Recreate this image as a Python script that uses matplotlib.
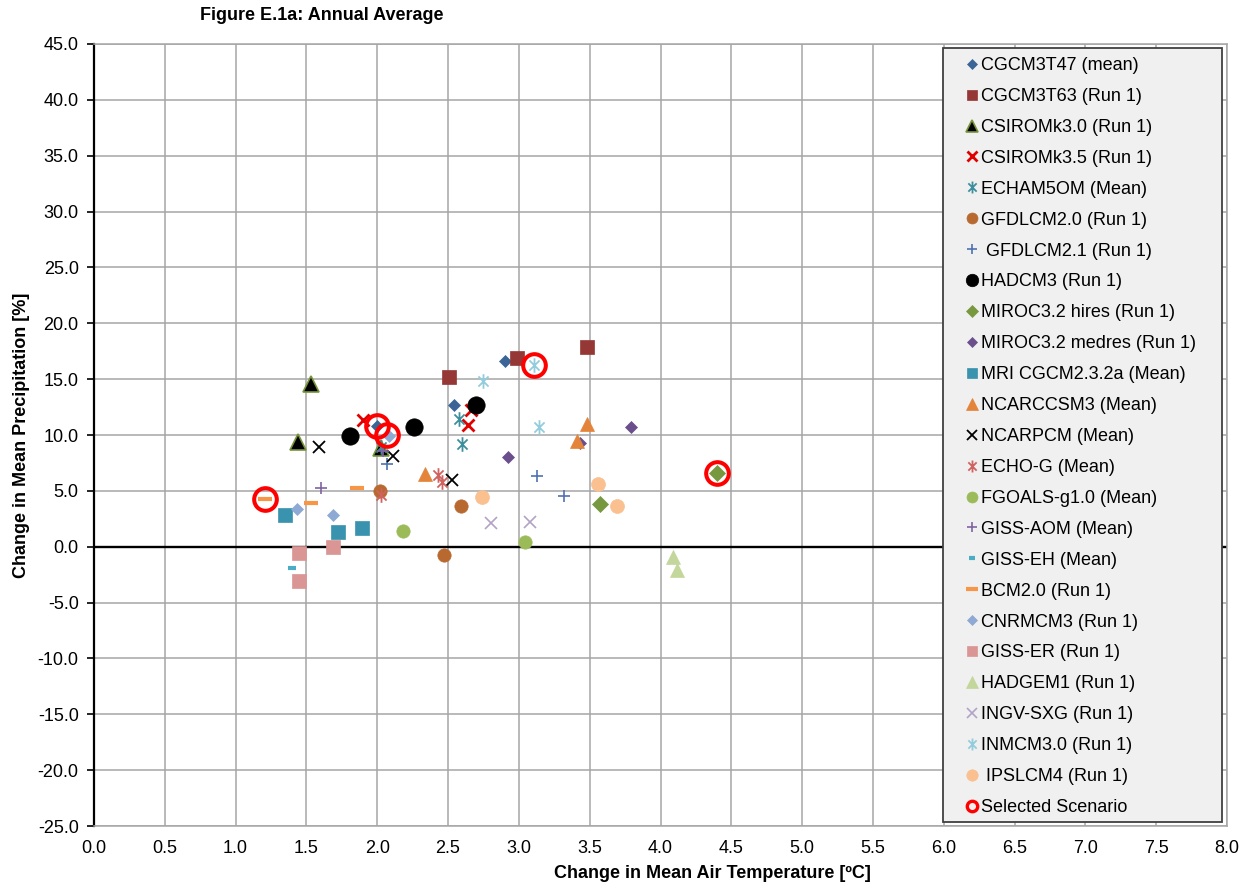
import matplotlib
matplotlib.use("Agg")
import matplotlib.pyplot as plt
from matplotlib.path import Path
from matplotlib.lines import Line2D
from matplotlib.patches import Rectangle

plt.rcParams["font.family"] = ["Liberation Sans", "DejaVu Sans"]

# Change in mean air temperature [degC] (dt) and mean precipitation [%] (dp)
cgcm3t47_dt = [2.90, 2.54, 2.00]
cgcm3t47_dp = [16.6, 12.7, 10.8]
cgcm3t63_dt = [2.51, 2.99, 3.48]
cgcm3t63_dp = [15.2, 16.9, 17.9]
csiro30_dt = [1.53, 1.44, 2.03]
csiro30_dp = [14.6, 9.4, 8.8]
csiro35_dt = [1.90, 2.64, 2.66]
csiro35_dp = [11.3, 10.9, 12.2]
echam5_dt = [2.58, 2.60, 2.03]
echam5_dp = [11.4, 9.2, 8.9]
gfdl20_dt = [2.02, 2.59, 2.47]
gfdl20_dp = [5.0, 3.6, -0.7]
gfdl21_dt = [3.13, 3.32, 2.07]
gfdl21_dp = [6.3, 4.5, 7.4]
hadcm3_dt = [1.81, 2.26, 2.70]
hadcm3_dp = [9.9, 10.7, 12.7]
miroc_hi_dt = [4.40, 3.57]
miroc_hi_dp = [6.6, 3.8]
miroc_med_dt = [2.92, 3.79, 3.43]
miroc_med_dp = [8.0, 10.7, 9.3]
mri_dt = [1.35, 1.72, 1.89]
mri_dp = [2.8, 1.3, 1.7]
ccsm3_dt = [2.34, 3.48, 3.41]
ccsm3_dp = [6.5, 11.0, 9.5]
ncarpcm_dt = [1.59, 2.11, 2.53]
ncarpcm_dp = [8.9, 8.1, 5.95]
echog_dt = [2.43, 2.46, 2.03]
echog_dp = [6.4, 5.8, 4.6]
fgoals_dt = [2.18, 3.04]
fgoals_dp = [1.4, 0.4]
giss_aom_dt = [1.60, 2.04]
giss_aom_dp = [5.3, 8.6]
giss_eh_dt = [1.40]
giss_eh_dp = [-1.95]
bcm20_dt = [1.21, 1.53, 1.86]
bcm20_dp = [4.25, 3.9, 5.3]
cnrm_dt = [1.43, 1.69, 2.08]
cnrm_dp = [3.4, 2.8, 9.9]
giss_er_dt = [1.45, 1.69, 1.45]
giss_er_dp = [-0.6, 0.0, -3.1]
hadgem1_dt = [4.09, 4.12]
hadgem1_dp = [-0.9, -2.1]
ingv_dt = [2.80, 3.08]
ingv_dp = [2.1, 2.2]
inmcm_dt = [3.11, 2.75, 3.14]
inmcm_dp = [16.3, 14.8, 10.7]
ipsl_dt = [2.74, 3.56, 3.69]
ipsl_dp = [4.45, 5.65, 3.6]
selected_dt = [1.21, 2.00, 2.07, 3.11, 4.40]
selected_dp = [4.25, 10.8, 10.0, 16.3, 6.6]

x_ticks = [i * 0.5 for i in range(17)]
y_ticks = [-25 + 5 * i for i in range(15)]

# Excel-style star: an "x" with a vertical bar through it
star = Path([(-0.5, -0.5), (0.5, 0.5), (-0.5, 0.5), (0.5, -0.5), (0, -0.72), (0, 0.72)],
            [Path.MOVETO, Path.LINETO, Path.MOVETO, Path.LINETO, Path.MOVETO, Path.LINETO])

# label, x, y, marker, size, face, edge, edge width, legend size
series = [
    ("CGCM3T47 (mean)", cgcm3t47_dt, cgcm3t47_dp, "D", 6.3, "#3B6597", "#3B6597", 0.5, 5.2),
    ("CGCM3T63 (Run 1)", cgcm3t63_dt, cgcm3t63_dp, "s", 9.5, "#953735", "#953735", 0.5, 7.8),
    ("CSIROMk3.0 (Run 1)", csiro30_dt, csiro30_dp, "^", 11.5, "black", "#77933C", 1.2, 8.0),
    ("CSIROMk3.5 (Run 1)", csiro35_dt, csiro35_dp, "x", 9.0, "#E00000", "#E00000", 2.0, 7.4),
    ("ECHAM5OM (Mean)", echam5_dt, echam5_dp, star, 10.5, "none", "#3D8F9E", 1.3, 8.6),
    ("GFDLCM2.0 (Run 1)", gfdl20_dt, gfdl20_dp, "o", 9.6, "#B8692F", "#B8692F", 0.5, 7.9),
    (" GFDLCM2.1 (Run 1)", gfdl21_dt, gfdl21_dp, "+", 9.0, "#4F72B0", "#4F72B0", 1.2, 7.4),
    ("HADCM3 (Run 1)", hadcm3_dt, hadcm3_dp, "o", 12.5, "black", "black", 0.5, 9.0),
    ("MIROC3.2 hires (Run 1)", miroc_hi_dt, miroc_hi_dp, "D", 8.0, "#77983F", "#77983F", 0.5, 5.8),
    ("MIROC3.2 medres (Run 1)", miroc_med_dt, miroc_med_dp, "D", 6.3, "#6A4F8C", "#6A4F8C", 0.5, 5.2),
    ("MRI CGCM2.3.2a (Mean)", mri_dt, mri_dp, "s", 9.5, "#3A93AE", "#3A93AE", 0.5, 7.8),
    ("NCARCCSM3 (Mean)", ccsm3_dt, ccsm3_dp, "^", 10.0, "#E3843A", "#E3843A", 0.5, 8.2),
    ("NCARPCM (Mean)", ncarpcm_dt, ncarpcm_dp, "x", 9.0, "black", "black", 1.3, 7.4),
    ("ECHO-G (Mean)", echog_dt, echog_dp, star, 10.5, "none", "#D0625F", 1.3, 8.6),
    ("FGOALS-g1.0 (Mean)", fgoals_dt, fgoals_dp, "o", 9.6, "#9BBB59", "#9BBB59", 0.5, 7.9),
    ("GISS-AOM (Mean)", giss_aom_dt, giss_aom_dp, "+", 9.0, "#8064A2", "#8064A2", 1.2, 7.4),
    ("GISS-EH (Mean)", giss_eh_dt, giss_eh_dp, "_", 6.0, "#4BACC6", "#4BACC6", 3.0, 5.0),
    ("BCM2.0 (Run 1)", bcm20_dt, bcm20_dp, "_", 10.0, "#F79646", "#F79646", 3.0, 8.2),
    ("CNRMCM3 (Run 1)", cnrm_dt, cnrm_dp, "D", 6.3, "#8EA9D4", "#8EA9D4", 0.5, 5.2),
    ("GISS-ER (Run 1)", giss_er_dt, giss_er_dp, "s", 9.5, "#D99694", "#D99694", 0.5, 7.8),
    ("HADGEM1 (Run 1)", hadgem1_dt, hadgem1_dp, "^", 10.0, "#C3D69B", "#C3D69B", 0.5, 8.2),
    ("INGV-SXG (Run 1)", ingv_dt, ingv_dp, "x", 9.0, "#B3A2C7", "#B3A2C7", 1.2, 7.4),
    ("INMCM3.0 (Run 1)", inmcm_dt, inmcm_dp, star, 10.5, "none", "#93CDDD", 1.3, 8.6),
    (" IPSLCM4 (Run 1)", ipsl_dt, ipsl_dp, "o", 10.0, "#FAC090", "#FAC090", 0.5, 8.2),
]

fig = plt.figure(figsize=(12.43, 8.88), dpi=100)
ax = fig.add_axes([94 / 1243, 62 / 888, 1133 / 1243, 782 / 888])

ax.set_xlim(0, 8)
ax.set_ylim(-25, 45)
ax.set_xticks(x_ticks)
ax.set_xticklabels([f"{v:.1f}" for v in x_ticks])
ax.set_yticks(y_ticks)
ax.set_yticklabels([f"{v:.1f}" for v in y_ticks])
ax.grid(True, color="#A6A6A6", lw=1.1)
ax.set_axisbelow(True)
ax.tick_params(axis="x", length=0, pad=10, labelsize=13)
ax.tick_params(axis="y", length=5, width=1.2, color="black", pad=6, labelsize=13)
for side in ("top", "right", "bottom"):
    ax.spines[side].set_color("#A6A6A6")
    ax.spines[side].set_linewidth(1.1)
ax.spines["left"].set_color("black")
ax.spines["left"].set_linewidth(1.6)
ax.axhline(0, color="black", lw=1.7, zorder=1.5)

handles = []
for label, xs, ys, mk, ms, fc, ec, mew, lms in series:
    ax.plot(xs, ys, ls="none", marker=mk, ms=ms, mfc=fc, mec=ec, mew=mew, zorder=3)
    handles.append(Line2D([], [], ls="none", marker=mk, ms=lms, mfc=fc, mec=ec,
                          mew=mew, label=label))

ax.plot(selected_dt, selected_dp, ls="none", marker="o", ms=16.3, mfc="none",
        mec="#FF0000", mew=2.9, zorder=4)
handles.append(Line2D([], [], ls="none", marker="o", ms=7.5, mfc="none", mec="#FF0000",
                      mew=2.4, label="Selected Scenario"))

# legend box
box = Rectangle(((943 - 94) / 1133, (826 - 822) / 782), (1222 - 943) / 1133, (822 - 48) / 782,
                transform=ax.transAxes, facecolor="#F0F0F0", edgecolor="#404040", lw=1.3,
                zorder=10, clip_on=False)
ax.add_patch(box)
leg = ax.legend(handles=handles, loc="upper left",
                bbox_to_anchor=((964.8 - 94) / 1133, (826 - 57) / 782),
                frameon=False, borderpad=0, borderaxespad=0, handlelength=0.8,
                handletextpad=0.1, labelspacing=0.771, fontsize=13, numpoints=1)
leg.set_zorder(11)

fig.text(200 / 1243, 1 - 16 / 888, "Figure E.1a: Annual Average", fontsize=13,
         fontweight="bold", ha="left", va="center")
fig.text(712 / 1243, 1 - 873 / 888, "Change in Mean Air Temperature [ºC]",
         fontsize=13, fontweight="bold", ha="center", va="center")
fig.text(22 / 1243, 1 - 435 / 888, "Change in Mean Precipitation [%]", fontsize=13,
         fontweight="bold", ha="center", va="center", rotation=90)

fig.savefig("out.png", dpi=100)
